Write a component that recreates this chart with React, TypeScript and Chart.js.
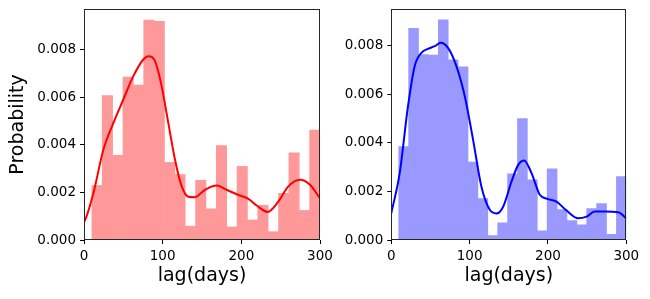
import React, { useEffect, useRef } from 'react';
import { Chart, registerables } from 'chart.js';

Chart.register(...registerables);

// ---- Left (red) histogram ----
const redBinEdges = [10, 23.18, 36.36, 49.55, 62.73, 75.91, 89.09, 102.27, 115.45, 128.64, 141.82, 155, 168.18, 181.36, 194.55, 207.73, 220.91, 234.09, 247.27, 260.45, 273.64, 286.82, 300];
const redHeights = [0.00229, 0.00606, 0.00356, 0.00684, 0.00651, 0.00923, 0.00918, 0.00326, 0.00275, 0.00058, 0.00251, 0.00131, 0.00396, 0.00055, 0.00309, 0.00084, 0.00146, 0.00035, 0.00196, 0.00366, 0.00124, 0.00462];
const redKdeX = [0, 1, 11.9, 24.6, 37.3, 50, 62.7, 75.4, 81.8, 90.3, 98.7, 107.2, 115.7, 124.2, 132.6, 141.1, 153.8, 168.6, 181.4, 196.2, 208.9, 219.5, 233.5, 247, 259.7, 274.6, 287.3, 300];
const redKdeY = [0.00078, 0.00081, 0.00196, 0.00379, 0.00491, 0.0059, 0.00688, 0.00758, 0.00772, 0.00751, 0.00646, 0.00491, 0.00337, 0.00225, 0.00182, 0.0018, 0.00211, 0.00229, 0.00211, 0.00189, 0.00173, 0.00145, 0.00118, 0.00161, 0.00225, 0.00253, 0.00232, 0.00175];

// ---- Right (blue) histogram ----
const blueBinEdges = [9.5, 22.13, 34.76, 47.39, 60.02, 72.65, 85.28, 97.91, 110.54, 123.17, 135.8, 148.43, 161.07, 173.7, 186.33, 198.96, 211.59, 224.22, 236.85, 249.48, 262.11, 274.74, 287.37, 300];
const blueHeights = [0.00384, 0.0087, 0.00763, 0.0076, 0.00905, 0.00741, 0.00712, 0.0032, 0.0017, 0.00018, 0.00071, 0.00272, 0.00499, 0.00247, 0.00038, 0.00293, 0.00125, 0.0008, 0.00062, 0.00129, 0.0015, 0.00023, 0.00261];
const blueKdeX = [0, 10.7, 21.3, 29.8, 38.4, 46.9, 55.4, 63.1, 72.4, 83.1, 93.8, 104.4, 115, 125.7, 134.2, 142.8, 153.4, 162, 169.6, 179, 189.6, 200.3, 210.9, 223.7, 238.6, 249.3, 259.9, 272.7, 289.8, 300];
const blueKdeY = [0.0011, 0.00275, 0.0055, 0.00715, 0.0077, 0.00786, 0.00797, 0.00811, 0.0079, 0.00715, 0.00591, 0.00412, 0.0022, 0.00124, 0.00109, 0.00137, 0.0024, 0.00309, 0.00327, 0.00275, 0.00186, 0.00168, 0.00158, 0.00121, 0.00089, 0.00096, 0.00117, 0.00117, 0.00114, 0.00089];

const yTickValues = [0, 0.002, 0.004, 0.006, 0.008];
const xTickValues = [0, 100, 200, 300];

const FONT = 'DejaVu Sans';

const boxPlugin = {
  id: 'boxPlugin',
  afterDraw(chart: any) {
    const { ctx, chartArea } = chart;
    ctx.save();
    ctx.fillStyle = '#262626';
    const l = Math.round(chartArea.left);
    const t = Math.round(chartArea.top);
    const r = Math.round(chartArea.right);
    const b = Math.round(chartArea.bottom);
    ctx.fillRect(l, t, r - l, 1);
    ctx.fillRect(l, b - 1, r - l, 1);
    ctx.fillRect(l, t, 1, b - t);
    ctx.fillRect(r - 1, t, 1, b - t);
    ctx.restore();
  },
};

type PanelProps = {
  edges: number[];
  heights: number[];
  kdeX: number[];
  kdeY: number[];
  barColor: string;
  lineColor: string;
  yMax: number;
  yAxisWidth: number;
  padRight: number;
  showYTitle: boolean;
  left: number;
  width: number;
};

function Panel(p: PanelProps) {
  const ref = useRef<HTMLCanvasElement | null>(null);
  useEffect(() => {
    const canvas = ref.current!;
    const bars = p.heights.map((h, i) => ({ x: (p.edges[i] + p.edges[i + 1]) / 2, y: h }));
    const kde = p.kdeX.map((x, i) => ({ x, y: p.kdeY[i] }));
    const chart = new Chart(canvas, {
      type: 'bar',
      data: {
        datasets: [
          {
            type: 'line',
            data: kde,
            borderColor: p.lineColor,
            borderWidth: 2,
            pointRadius: 0,
            cubicInterpolationMode: 'monotone',
            fill: false,
            order: 0,
          } as any,
          {
            type: 'bar',
            data: bars,
            backgroundColor: p.barColor,
            borderWidth: 0,
            barPercentage: 1,
            categoryPercentage: 1,
            order: 1,
          } as any,
        ],
      },
      options: {
        animation: false,
        responsive: false,
        maintainAspectRatio: false,
        devicePixelRatio: 1,
        layout: { padding: { left: 0, right: p.padRight, top: 9, bottom: 0 } },
        plugins: { legend: { display: false }, tooltip: { enabled: false } },
        scales: {
          x: {
            type: 'linear',
            min: 0,
            max: 300,
            offset: false,
            afterBuildTicks: (s: any) => {
              s.ticks = xTickValues.map((v) => ({ value: v }));
            },
            afterFit: (s: any) => {
              s.height = 59;
              s.paddingLeft = 0;
              s.paddingRight = 0;
            },
            ticks: {
              color: '#000',
              font: { family: FONT, size: 13.5 },
              padding: 4,
              maxRotation: 0,
              callback: (v: any) => String(v),
            },
            grid: { display: true, offset: false, drawOnChartArea: false, drawTicks: true, tickLength: 4, color: '#000' },
            border: { display: false },
            title: {
              display: true,
              text: 'lag(days)',
              color: '#000',
              font: { family: FONT, size: 19 },
              padding: { top: 0, bottom: 12 },
            },
          },
          y: {
            type: 'linear',
            min: 0,
            max: p.yMax,
            afterBuildTicks: (s: any) => {
              s.ticks = yTickValues.map((v) => ({ value: v }));
            },
            afterFit: (s: any) => {
              s.width = p.yAxisWidth;
              s.paddingTop = 0;
              s.paddingBottom = 0;
            },
            ticks: {
              color: '#000',
              font: { family: FONT, size: 13.5 },
              padding: 4,
              callback: (v: any) => Number(v).toFixed(3),
            },
            grid: { display: true, drawOnChartArea: false, drawTicks: true, tickLength: 4, color: '#000' },
            border: { display: false },
            title: {
              display: p.showYTitle,
              text: 'Probability',
              color: '#000',
              font: { family: FONT, size: 19 },
              padding: { top: 7, bottom: 0 },
            },
          },
        },
      },
      plugins: [boxPlugin],
    });
    return () => chart.destroy();
  }, []);
  return (
    <canvas
      ref={ref}
      width={p.width}
      height={299}
      style={{ position: 'absolute', left: p.left, top: 0, width: p.width, height: 299 }}
    />
  );
}

export default function App() {
  return (
    <div style={{ position: 'fixed', left: 0, top: 0, width: 650, height: 299, background: '#fff' }}>
      <Panel
        edges={redBinEdges}
        heights={redHeights}
        kdeX={redKdeX}
        kdeY={redKdeY}
        barColor="rgb(255,153,153)"
        lineColor="#ff0000"
        yMax={0.0097}
        yAxisWidth={84}
        padRight={15}
        showYTitle={true}
        left={0}
        width={335}
      />
      <Panel
        edges={blueBinEdges}
        heights={blueHeights}
        kdeX={blueKdeX}
        kdeY={blueKdeY}
        barColor="rgb(153,153,255)"
        lineColor="#0000ff"
        yMax={0.0095}
        yAxisWidth={56.3}
        padRight={23.7}
        showYTitle={false}
        left={335}
        width={315}
      />
    </div>
  );
}
